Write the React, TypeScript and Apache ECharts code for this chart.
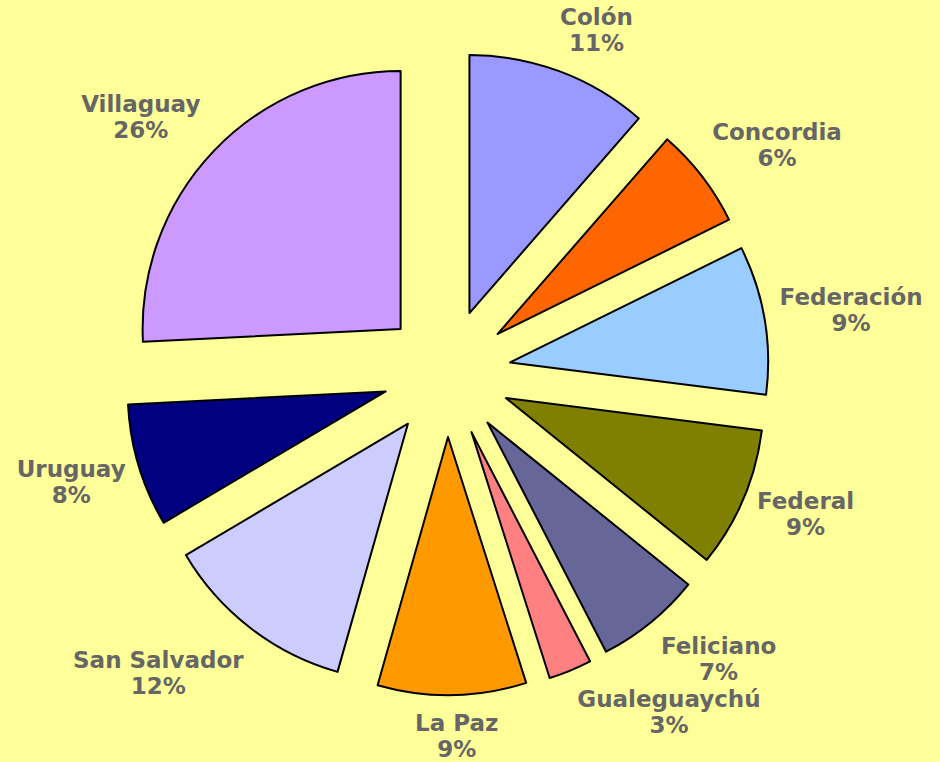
import React, { useEffect, useRef } from "react";
import * as echarts from "echarts";

// ---- data ----
const categories = [
  "Colón",
  "Concordia",
  "Federación",
  "Federal",
  "Feliciano",
  "Gualeguaychú",
  "La Paz",
  "San Salvador",
  "Uruguay",
  "Villaguay",
];
const values = [11.4, 6.3, 9.3, 8.8, 6.6, 2.7, 9.3, 12.1, 7.7, 25.8];
const colors = [
  "#9999FF",
  "#FF6600",
  "#99CCFF",
  "#808000",
  "#666699",
  "#FF8080",
  "#FF9900",
  "#CCCCFF",
  "#000080",
  "#CC99FF",
];

// ---- layout / style ----
const W = 940;
const H = 762;
const CX = 447;
const CY = 373;
const R = 258;
const EXPLODE = 64;
const GAP = 16;
const FONT_SIZE = 23;
const LINE_HEIGHT = 26;
const FONT_FAMILY = "'DejaVu Sans', Verdana, sans-serif";
// small per-label adjustments (dx, dy) to mimic the original label placement
const labelNudge: [number, number][] = [
  [18, 8],
  [9, 19],
  [-3, 5],
  [-3, -13],
  [22, -20],
  [70, -28],
  [4, -2],
  [-38, -25],
  [5, -6],
  [-17, 19],
];

export default function App() {
  const ref = useRef<HTMLDivElement>(null);

  useEffect(() => {
    if (!ref.current) return;
    const chart = echarts.init(ref.current, undefined, { renderer: "svg" });

    const total = values.reduce((a, b) => a + b, 0);
    const mids: number[] = [];
    let acc = 0;
    values.forEach((v) => {
      mids.push(((acc + v / 2) / total) * Math.PI * 2);
      acc += v;
    });

    const ctx = document.createElement("canvas").getContext("2d");
    const measure = (s: string) => {
      if (!ctx) return s.length * FONT_SIZE * 0.7;
      ctx.font = `bold ${FONT_SIZE}px ${FONT_FAMILY}`;
      return ctx.measureText(s).width;
    };
    const pctText = (i: number) => `${Math.round((values[i] / total) * 100)}%`;

    // one pie per slice (same data, only its own slice visible), centred at the
    // exploded position so that the slice is pulled out along its mid-angle
    const series = categories.map((_, k) => {
      const ux = Math.sin(mids[k]);
      const uy = -Math.cos(mids[k]);
      return {
        type: "pie",
        center: [CX + EXPLODE * ux, CY + EXPLODE * uy],
        radius: [0, R],
        startAngle: 90,
        clockwise: true,
        silent: true,
        avoidLabelOverlap: false,
        emphasis: { disabled: true },
        labelLine: { show: false, length: 0, length2: 0 },
        label: {
          show: false,
          position: "outside",
          formatter: (p: any) => `${p.name}\n${Math.round(p.percent)}%`,
          color: "#666666",
          fontFamily: FONT_FAMILY,
          fontWeight: "bold",
          fontSize: FONT_SIZE,
          lineHeight: LINE_HEIGHT,
          align: "center",
        },
        labelLayout: (p: any) => {
          const i = p.dataIndex;
          if (i !== k) return {};
          const w = Math.max(measure(categories[i]), measure(pctText(i)));
          const h = LINE_HEIGHT * 2;
          const dist =
            EXPLODE + R + GAP + (Math.abs(ux) * w) / 2 + (Math.abs(uy) * h) / 2;
          return {
            x: CX + dist * ux + labelNudge[i][0],
            y: CY + dist * uy + labelNudge[i][1],
            align: "center",
            verticalAlign: "middle",
          };
        },
        data: categories.map((name, i) => ({
          name,
          value: values[i],
          itemStyle:
            i === k
              ? { color: colors[i], borderColor: "#000000", borderWidth: 2 }
              : { color: "rgba(0,0,0,0)", borderWidth: 0 },
          label: { show: i === k },
        })),
      };
    });

    chart.setOption({
      animation: false,
      backgroundColor: "#FFFF99",
      series,
    });

    return () => {
      chart.dispose();
    };
  }, []);

  return (
    <div
      ref={ref}
      style={{ position: "absolute", left: 0, top: 0, width: W, height: H }}
    />
  );
}
